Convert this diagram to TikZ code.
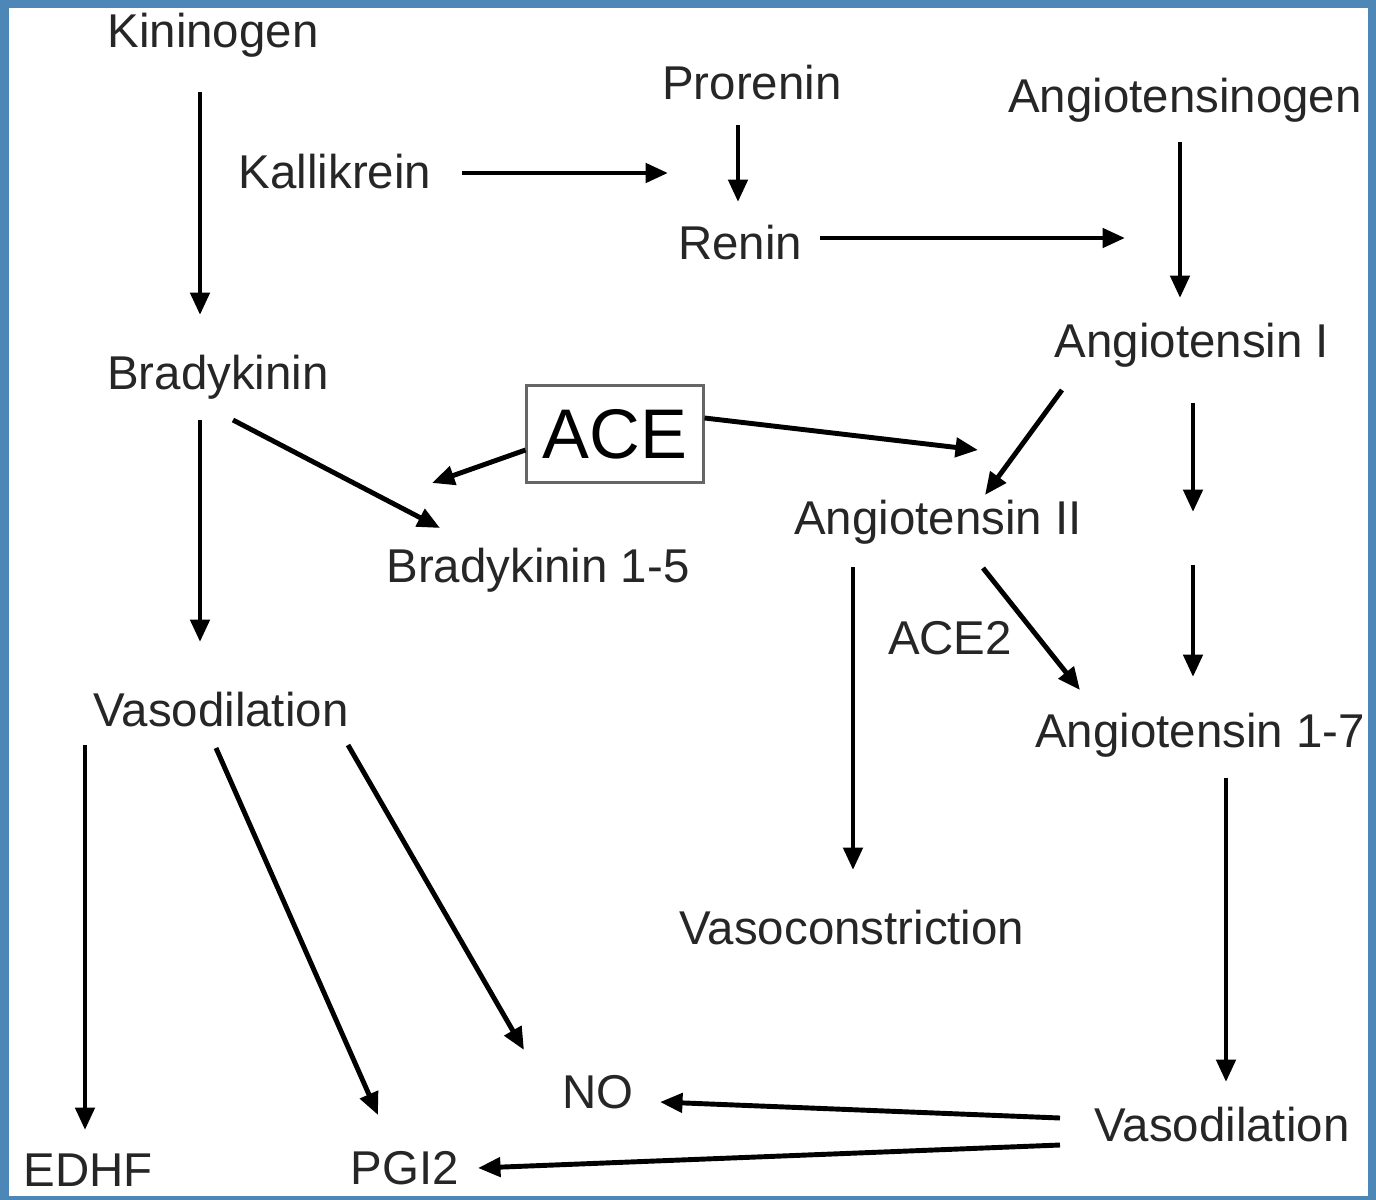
\documentclass[tikz,border=0pt]{standalone}
\usepackage{fontspec}
\setmainfont{Liberation Sans}
\usetikzlibrary{arrows.meta}
\begin{document}
\begin{tikzpicture}[x=0.02cm,y=-0.02cm,
  lbl/.style={inner sep=0pt,font=\fontsize{27}{30}\selectfont,text=black!85},
  arr/.style={line width=2.8pt,-{Triangle[length=0.45cm,width=0.38cm]}}]
\useasboundingbox (0,0) rectangle (1376,1200);
\fill[blue!45!cyan!60!black!70] (0,0) rectangle (1376,1200);
\fill[white] (9,8) rectangle (1368,1196);
\node[lbl] (kin) at (213,35) {Kininogen};
\node[lbl] (kal) at (335,172) {Kallikrein};
\node[lbl] (pro) at (752,83) {Prorenin};
\node[lbl] (agn) at (1185,100) {Angiotensinogen};
\node[lbl] (ren) at (740,243) {Renin};
\node[lbl] (a1) at (1192,345) {Angiotensin I};
\node[lbl] (bk) at (218,377) {Bradykinin};
\node[draw=black!60,line width=1.2pt,minimum width=3.54cm,minimum height=1.94cm,font=\fontsize{40}{44}\selectfont] (ace) at (615,434) {ACE};
\node[lbl] (a2) at (938,522) {Angiotensin II};
\node[lbl] (bk15) at (538,570) {Bradykinin 1-5};
\node[lbl] (ace2) at (950,638) {ACE2};
\node[lbl] (a17) at (1200,735) {Angiotensin 1-7};
\node[lbl] (vdl) at (221,710) {Vasodilation};
\node[lbl] (vc) at (852,928) {Vasoconstriction};
\node[lbl] (no) at (598,1092) {NO};
\node[lbl] (vdr) at (1222,1125) {Vasodilation};
\node[lbl] (edhf) at (88,1170) {EDHF};
\node[lbl] (pgi) at (405,1168) {PGI2};
\draw[arr] (200,92) -- (200,315);
\draw[arr] (462,173) -- (668,173);
\draw[arr] (738,125) -- (738,202);
\draw[arr] (820,238) -- (1125,238);
\draw[arr] (1180,142) -- (1180,298);
\draw[arr] (1062,390) -- (985,495);
\draw[arr] (1193,403) -- (1193,512);
\draw[arr] (1193,565) -- (1193,677);
\draw[arr] (ace.east) ++(0,-16) -- (978,450);
\draw[arr] (ace.west) ++(0,16) -- (432,483);
\draw[arr] (233,420) -- (440,528);
\draw[arr] (200,420) -- (200,642);
\draw[arr] (853,567) -- (853,870);
\draw[arr] (983,568) -- (1080,690);
\draw[arr] (1226,778) -- (1226,1082);
\draw[arr] (85,745) -- (85,1130);
\draw[arr] (216,748) -- (378,1115);
\draw[arr] (348,745) -- (524,1050);
\draw[arr] (1060,1118) -- (660,1102);
\draw[arr] (1060,1145) -- (478,1168);
\end{tikzpicture}
\end{document}
